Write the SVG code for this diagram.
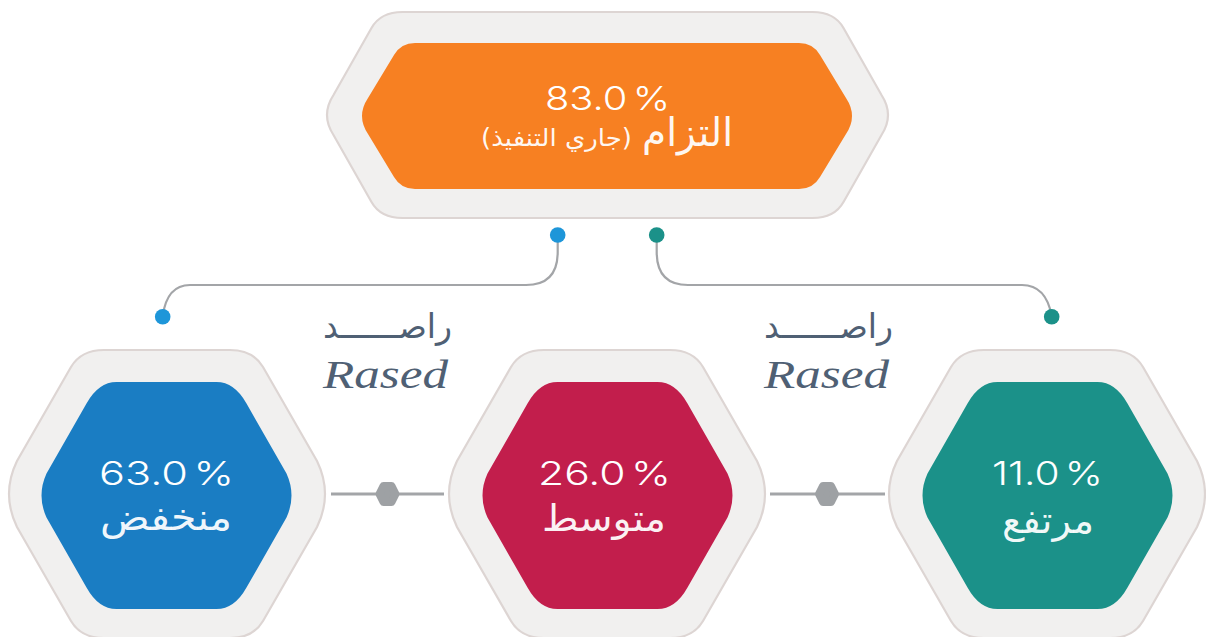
<svg xmlns="http://www.w3.org/2000/svg" width="1206" height="637" viewBox="0 0 1206 637">
<style>
.plate{fill:#f1f0ef;stroke:#ddd5d3;stroke-width:2.2}
.num{font-family:"Inter","Liberation Sans",sans-serif;font-weight:300;fill:#fff;font-size:33px;word-spacing:-5px}
.ar{font-family:"DejaVu Sans","Noto Sans",sans-serif;fill:#fff;font-size:37px;direction:rtl;fill-opacity:.94}
.wire{fill:none;stroke:#a3a5a8;stroke-width:2.2}
.link{stroke:#a3a5a8;stroke-width:3}
.studs{fill:#9ea1a4;stroke:#9ea1a4;stroke-width:8;stroke-linejoin:round}
.brand{fill:#4f6074}
.rasedEn{font-family:"Liberation Serif",serif;font-style:italic;font-size:39px}
.rasedAr{font-family:"DejaVu Sans",sans-serif;font-size:34px;direction:rtl}
</style>
<defs>
<path id="outerLow" d="M-63,-144H63Q86,-144 96,-127L150,-33Q166,0 150,33L96,127Q86,144 63,144H-63Q-86,144 -96,127L-150,33Q-166,0 -150,-33L-96,-127Q-86,-144 -63,-144Z"/>
<path id="innerLow" d="M-50,-113.5H50Q68,-113.5 80,-92L120,-22Q130,0 120,22L80,92Q68,113.5 50,113.5H-50Q-68,113.5 -80,92L-120,22Q-130,0 -120,-22L-80,-92Q-68,-113.5 -50,-113.5Z"/>
<polygon id="stud" points="-4,-8 4,-8 8,0 4,8 -4,8 -8,0"/>
</defs>
<g id="connectors">
<path class="wire" d="M557.7,235V252Q557.7,285 526,285H190Q167,285 162.7,316"/>
<path class="wire" d="M656.7,235V252Q656.7,285 688,285H1022Q1046,285 1051.7,316"/>
<line class="link" x1="331" y1="494" x2="444" y2="494"/>
<line class="link" x1="770" y1="494" x2="885" y2="494"/>
<use href="#stud" class="studs" x="387.5" y="494"/>
<use href="#stud" class="studs" x="827" y="494"/>
<circle cx="557.7" cy="235" r="7.8" fill="#1e96d9"/>
<circle cx="162.7" cy="316.7" r="7.8" fill="#1e96d9"/>
<circle cx="656.7" cy="235" r="7.8" fill="#1b9189"/>
<circle cx="1051.7" cy="316.7" r="7.8" fill="#1b9189"/>
</g>
<g id="node-commitment">
<path class="plate" d="M-205,-103H205Q227,-103 236,-87L274,-20Q287,0 274,20L236,87Q227,103 205,103H-205Q-227,103 -236,87L-274,20Q-287,0 -274,-20L-236,-87Q-227,-103 -205,-103Z" transform="translate(607.5,115)"/>
<path fill="#f78022" d="M-192,-73H192Q206,-73 213,-61L239,-18Q251,0 239,18L213,61Q206,73 192,73H-192Q-206,73 -213,61L-239,18Q-251,0 -239,-18L-213,-61Q-206,-73 -192,-73Z" transform="translate(607,116)"/>
<text class="num" x="545" y="110" textLength="125" lengthAdjust="spacingAndGlyphs">83.0 %</text>
<text class="ar" x="733" y="146" style="font-size:39px" textLength="91" lengthAdjust="spacingAndGlyphs">التزام</text>
<text class="ar" x="632" y="146" style="font-size:24px" textLength="151" lengthAdjust="spacingAndGlyphs">(جاري التنفيذ)</text>
</g>
<g id="node-low">
<use href="#outerLow" class="plate" x="167" y="494"/>
<use href="#innerLow" fill="#1a7dc3" x="166.5" y="495.5"/>
<text class="num" x="99" y="485" textLength="135" lengthAdjust="spacingAndGlyphs">63.0 %</text>
<text class="ar" x="232" y="530" textLength="132" lengthAdjust="spacingAndGlyphs">منخفض</text>
</g>
<g id="node-medium">
<use href="#outerLow" class="plate" x="607" y="494"/>
<use href="#innerLow" fill="#c21e4c" x="607.5" y="495.5"/>
<text class="num" x="538" y="485" textLength="133" lengthAdjust="spacingAndGlyphs">26.0 %</text>
<text class="ar" x="666" y="531" textLength="124" lengthAdjust="spacingAndGlyphs">متوسط</text>
</g>
<g id="node-high">
<use href="#outerLow" class="plate" x="1047" y="494"/>
<use href="#innerLow" fill="#1b9189" x="1047.5" y="495.5"/>
<text class="num" x="992" y="485" textLength="111" lengthAdjust="spacingAndGlyphs">11.0 %</text>
<text class="ar" x="1094" y="533" textLength="92" lengthAdjust="spacingAndGlyphs">مرتفع</text>
</g>
<g id="brand-left" class="brand">
<text class="rasedAr" x="452" y="338" textLength="129" lengthAdjust="spacingAndGlyphs">راصــــــد</text>
<text class="rasedEn" x="323" y="388" textLength="125" lengthAdjust="spacingAndGlyphs">Rased</text>
</g>
<g id="brand-right" class="brand">
<text class="rasedAr" x="893" y="338" textLength="129" lengthAdjust="spacingAndGlyphs">راصــــــد</text>
<text class="rasedEn" x="764" y="388" textLength="125" lengthAdjust="spacingAndGlyphs">Rased</text>
</g>
</svg>
